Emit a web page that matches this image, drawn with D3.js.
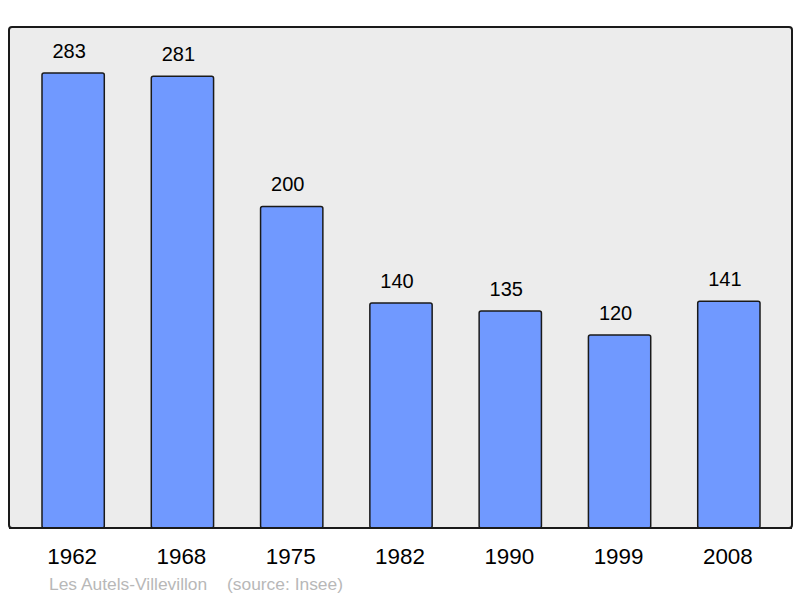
<!DOCTYPE html>
<html><head><meta charset="utf-8">
<script src="https://cdn.jsdelivr.net/npm/d3@7"></script>
<style>body{margin:0;background:#fff}svg{display:block}text{font-family:"Liberation Sans",Arial,sans-serif}</style>
</head><body>
<script>
const years = ["1962","1968","1975","1982","1990","1999","2008"];
const population = [283,281,200,140,135,120,141];
const commune = "Les Autels-Villevillon";
const source = "(source: Insee)";

const W = 800, H = 598;
const frame = {x0: 9, x1: 792, y0: 27, y1: 528};
const svg = d3.select("body").append("svg").attr("width", W).attr("height", H);

svg.append("rect").attr("x", frame.x0).attr("y", frame.y0)
  .attr("width", frame.x1 - frame.x0).attr("height", frame.y1 - frame.y0)
  .attr("rx", 3).attr("fill", "#ececec").attr("stroke", "#1a1a1a").attr("stroke-width", 2);

const x = d3.scaleBand().domain(years).range([18.5, 783.5]).paddingInner(0.43).paddingOuter(0.215);
const y = d3.scaleLinear().domain([0, 311.6]).range([frame.y1, frame.y0]);

svg.selectAll("rect.bar").data(population).join("rect").attr("class", "bar")
  .attr("x", (d, i) => x(years[i])).attr("y", d => y(d))
  .attr("width", x.bandwidth()).attr("height", d => frame.y1 - y(d))
  .attr("rx", 2).attr("fill", "#7099ff").attr("stroke", "#1a1a1a").attr("stroke-width", 1.5);

svg.append("line").attr("x1", frame.x0).attr("x2", frame.x1).attr("y1", frame.y1).attr("y2", frame.y1)
  .attr("stroke", "#1a1a1a").attr("stroke-width", 2);

svg.selectAll("text.val").data(population).join("text").attr("class", "val")
  .attr("x", (d, i) => x(years[i]) + x.bandwidth() / 2 - 4).attr("y", d => y(d) - 15)
  .attr("text-anchor", "middle").attr("font-size", 20).attr("fill", "#000").text(d => d);

svg.selectAll("text.year").data(years).join("text").attr("class", "year")
  .attr("x", d => x(d) + x.bandwidth() / 2 - 1).attr("y", 564)
  .attr("text-anchor", "middle").attr("font-size", 22.4).attr("fill", "#000").text(d => d);

svg.append("text").attr("x", 49).attr("y", 590).attr("font-size", 17.4).attr("fill", "#b8b8b8").text(commune);
svg.append("text").attr("x", 227).attr("y", 590).attr("font-size", 17.4).attr("fill", "#b8b8b8").text(source);
</script>
</body></html>
